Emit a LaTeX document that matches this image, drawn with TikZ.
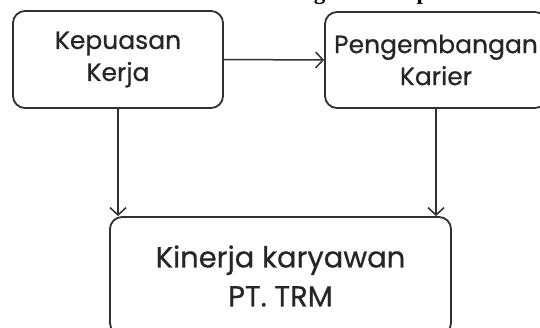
\documentclass[tikz,border=0pt]{standalone}
\usepackage{fontspec}
\setmainfont{Poppins}
\newfontfamily\boxfont{Poppins}[FakeBold=0.6]
\newfontfamily\titlefont{Liberation Serif}
\usetikzlibrary{arrows.meta}
\definecolor{ink}{HTML}{262626}
\definecolor{edge}{HTML}{303030}
\tikzset{
  box/.style={draw=edge, line width=1.8pt, rounded corners=12pt, inner sep=0pt, align=center, text=ink},
  link/.style={draw=edge, line width=1.5pt, -{Straight Barb[length=7.5pt,width=16pt,line width=1.5pt]}}
}
\begin{document}
\begin{tikzpicture}[x=1pt,y=-1pt]
\useasboundingbox (0,0) rectangle (540,327);
\fill[white] (0,0) rectangle (540,327);
\clip (0,0) rectangle (540,327);
\node[anchor=base west, inner sep=0pt, font=\titlefont\bfseries\fontsize{23}{27}\selectfont] (title) at (251,-1) {Kerangka Konseptual};
\node[box, minimum width=210pt, minimum height=97pt, font=\boxfont\fontsize{25}{32}\selectfont] (kk) at (118,59.5) {Kepuasan\\Kerja};
\node[box, minimum width=222pt, minimum height=96pt, font=\boxfont\fontsize{25}{32}\selectfont] (pk) at (436,60) {Pengembangan\\Karier};
\node[box, minimum width=341pt, minimum height=118pt, font=\boxfont\fontsize{29}{39}\selectfont] (kin) at (280.5,276) {Kinerja karyawan\\PT. TRM};
\draw[link] (kk.east) -- (pk.west);
\draw[link] (kk.south) -- (kk.south |- kin.north);
\draw[link] (pk.south) -- (pk.south |- kin.north);
\end{tikzpicture}
\end{document}
